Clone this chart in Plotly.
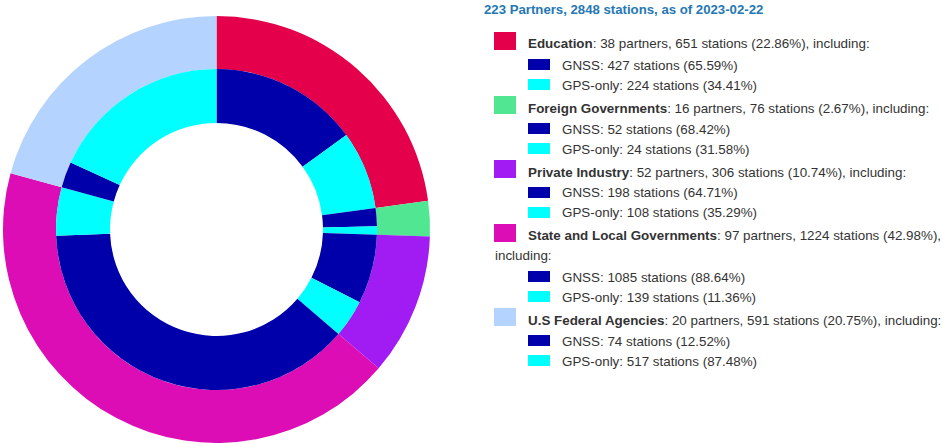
import plotly.graph_objects as go

W, H = 943, 443
OFF = 0  # body margin removed via post_script

categories = ["Education", "Foreign Governments", "Private Industry",
              "State and Local Governments", "U.S Federal Agencies"]
partners = [38, 16, 52, 97, 20]
stations = [651, 76, 306, 1224, 591]
gnss = [427, 52, 198, 1085, 74]
gps_only = [224, 24, 108, 139, 517]
total_partners = 223
total_stations = 2848
as_of = "2023-02-22"

cat_colors = ["#E4004A", "#50E692", "#A01CF2", "#DC0DB4", "#B4D4FF"]
gnss_color = "#0000AA"
gps_color = "#00FFFF"

inner_labels, inner_values, inner_colors = [], [], []
for c, g, p in zip(categories, gnss, gps_only):
    inner_labels += [c + " GNSS", c + " GPS-only"]
    inner_values += [g, p]
    inner_colors += [gnss_color, gps_color]

cx, cy = 216.5 - OFF, 229.5 - OFF
r_out, r_mid, r_in = 213.5, 160.5, 106.5


def dom(r):
    return dict(x=[max(0, (cx - r) / W), (cx + r) / W],
                y=[max(0, (H - cy - r) / H), min(1, (H - cy + r) / H)])


fig = go.Figure()
fig.add_trace(go.Pie(labels=categories, values=stations, sort=False,
                     direction="clockwise", rotation=0, hole=r_mid / r_out,
                     marker=dict(colors=cat_colors, line=dict(width=0)),
                     textinfo="none", domain=dom(r_out), showlegend=False))
fig.add_trace(go.Pie(labels=inner_labels, values=inner_values, sort=False,
                     direction="clockwise", rotation=0, hole=r_in / r_mid,
                     marker=dict(colors=inner_colors, line=dict(width=0)),
                     textinfo="none", domain=dom(r_mid), showlegend=False))

FONT = "Arial, Liberation Sans, sans-serif"
TXT = "#333333"
FS = 13.4
annotations = []
shapes = []


def px(x, y):
    return (x - OFF) / W, 1 - (y - OFF) / H


def add_text(x, y, text, color=TXT, size=FS):
    ax, ay = px(x, y)
    annotations.append(dict(x=ax, y=ay, xref="paper", yref="paper", text=text,
                            showarrow=False, xanchor="left", yanchor="middle",
                            xshift=-1, font=dict(family=FONT, size=size, color=color)))


def add_box(x0, y0, x1, y1, color):
    a0, b0 = px(x0, y0)
    a1, b1 = px(x1, y1)
    shapes.append(dict(type="rect", xref="paper", yref="paper", x0=a0, x1=a1,
                       y0=b1, y1=b0, fillcolor=color, line=dict(width=0)))


add_text(483, 10, f"<b>{total_partners} Partners, {total_stations} stations, as of {as_of}</b>",
         color="#2677B3", size=13.2)

y = 44
for i, c in enumerate(categories):
    pct = stations[i] / total_stations * 100
    add_box(494, y - 12, 516, y + 6, cat_colors[i])
    if i == 3:
        add_text(527, y, f"<b>{c}</b>: {partners[i]} partners, {stations[i]} stations ({pct:.2f}%),")
        y += 20
        add_text(494, y, "including:")
    else:
        add_text(527, y, f"<b>{c}</b>: {partners[i]} partners, {stations[i]} stations ({pct:.2f}%), including:")
    y += 21
    add_box(528, y - 6, 550, y + 5, gnss_color)
    add_text(561, y, f"GNSS: {gnss[i]} stations ({gnss[i] / stations[i] * 100:.2f}%)")
    y += 20
    add_box(528, y - 6, 550, y + 5, gps_color)
    add_text(561, y, f"GPS-only: {gps_only[i]} stations ({gps_only[i] / stations[i] * 100:.2f}%)")
    y += 23

fig.update_layout(width=W, height=H, margin=dict(l=0, r=0, t=0, b=0),
                  paper_bgcolor="white", plot_bgcolor="white",
                  annotations=annotations, shapes=shapes, showlegend=False)
fig.write_html("out.html", config={"displayModeBar": False},
               post_script="document.body.style.margin='0';document.body.style.overflow='hidden';")
